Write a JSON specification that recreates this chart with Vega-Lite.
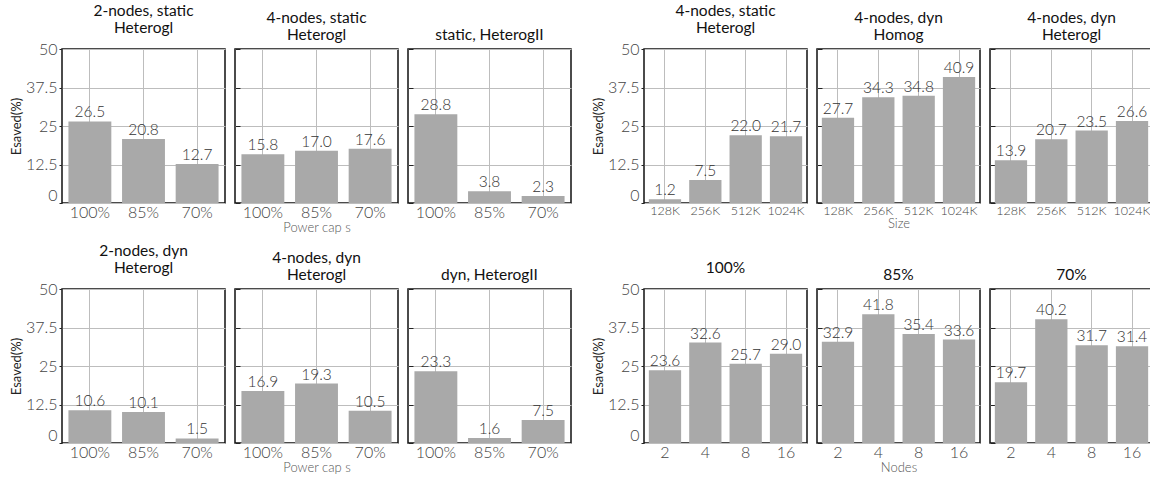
{
  "$schema": "https://vega.github.io/schema/vega-lite/v6.json",
  "padding": {"left": 9, "top": 2, "right": 0, "bottom": 0},
  "background": "white",
  "data": {"values": [
    {"p": "a1", "x": "100%", "v": 26.5}, {"p": "a1", "x": "85%", "v": 20.8}, {"p": "a1", "x": "70%", "v": 12.7},
    {"p": "a2", "x": "100%", "v": 15.8}, {"p": "a2", "x": "85%", "v": 17.0}, {"p": "a2", "x": "70%", "v": 17.6},
    {"p": "a3", "x": "100%", "v": 28.8}, {"p": "a3", "x": "85%", "v": 3.8}, {"p": "a3", "x": "70%", "v": 2.3},
    {"p": "b1", "x": "128K", "v": 1.2}, {"p": "b1", "x": "256K", "v": 7.5}, {"p": "b1", "x": "512K", "v": 22.0}, {"p": "b1", "x": "1024K", "v": 21.7},
    {"p": "b2", "x": "128K", "v": 27.7}, {"p": "b2", "x": "256K", "v": 34.3}, {"p": "b2", "x": "512K", "v": 34.8}, {"p": "b2", "x": "1024K", "v": 40.9},
    {"p": "b3", "x": "128K", "v": 13.9}, {"p": "b3", "x": "256K", "v": 20.7}, {"p": "b3", "x": "512K", "v": 23.5}, {"p": "b3", "x": "1024K", "v": 26.6},
    {"p": "c1", "x": "100%", "v": 10.6}, {"p": "c1", "x": "85%", "v": 10.1}, {"p": "c1", "x": "70%", "v": 1.5},
    {"p": "c2", "x": "100%", "v": 16.9}, {"p": "c2", "x": "85%", "v": 19.3}, {"p": "c2", "x": "70%", "v": 10.5},
    {"p": "c3", "x": "100%", "v": 23.3}, {"p": "c3", "x": "85%", "v": 1.6}, {"p": "c3", "x": "70%", "v": 7.5},
    {"p": "d1", "x": "2", "v": 23.6}, {"p": "d1", "x": "4", "v": 32.6}, {"p": "d1", "x": "8", "v": 25.7}, {"p": "d1", "x": "16", "v": 29.0},
    {"p": "d2", "x": "2", "v": 32.9}, {"p": "d2", "x": "4", "v": 41.8}, {"p": "d2", "x": "8", "v": 35.4}, {"p": "d2", "x": "16", "v": 33.6},
    {"p": "d3", "x": "2", "v": 19.7}, {"p": "d3", "x": "4", "v": 40.2}, {"p": "d3", "x": "8", "v": 31.7}, {"p": "d3", "x": "16", "v": 31.4}
  ]},
  "vconcat": [
    {"spacing": 19, "hconcat": [
      {"hconcat": [
        {"title": {"text": ["2-nodes, static", "Heterogl"]}, "width": 163, "height": 154,
         "transform": [{"filter": "datum.p === 'a1'"}],
         "encoding": {
           "x": {"field": "x", "type": "nominal", "sort": ["100%", "85%", "70%"], "title": null, "scale": {"paddingInner": 0.2, "paddingOuter": 0.12}},
           "y": {"field": "v", "type": "quantitative", "scale": {"domain": [0, 50]}, "axis": {"values": [0, 12.5, 25, 37.5, 50], "labelExpr": "'' + datum.value", "title": "Esaved(%)", "labelOffset": {"condition": {"test": "datum.value === 0", "value": -8}, "value": 0}}}},
         "layer": [{"mark": "bar"}, {"mark": {"type": "text", "baseline": "bottom", "dy": -1}, "encoding": {"text": {"field": "v", "type": "quantitative", "format": ".1f"}}}]},
        {"title": {"text": ["4-nodes, static", "Heterogl"]}, "width": 163, "height": 154,
         "transform": [{"filter": "datum.p === 'a2'"}],
         "encoding": {
           "x": {"field": "x", "type": "nominal", "sort": ["100%", "85%", "70%"], "title": "Power cap s", "scale": {"paddingInner": 0.2, "paddingOuter": 0.12}},
           "y": {"field": "v", "type": "quantitative", "scale": {"domain": [0, 50]}, "axis": {"values": [0, 12.5, 25, 37.5, 50], "title": null, "labels": false, "tickSize": -5}}},
         "layer": [{"mark": "bar"}, {"mark": {"type": "text", "baseline": "bottom", "dy": -1}, "encoding": {"text": {"field": "v", "type": "quantitative", "format": ".1f"}}}]},
        {"title": {"text": ["", "static, HeterogII"]}, "width": 163, "height": 154,
         "transform": [{"filter": "datum.p === 'a3'"}],
         "encoding": {
           "x": {"field": "x", "type": "nominal", "sort": ["100%", "85%", "70%"], "title": null, "scale": {"paddingInner": 0.2, "paddingOuter": 0.12}},
           "y": {"field": "v", "type": "quantitative", "scale": {"domain": [0, 50]}, "axis": {"values": [0, 12.5, 25, 37.5, 50], "title": null, "labels": false, "tickSize": -5}}},
         "layer": [{"mark": "bar"}, {"mark": {"type": "text", "baseline": "bottom", "dy": -1}, "encoding": {"text": {"field": "v", "type": "quantitative", "format": ".1f"}}}]}
      ]},
      {"hconcat": [
        {"title": {"text": ["4-nodes, static", "Heterogl"]}, "width": 163, "height": 154,
         "transform": [{"filter": "datum.p === 'b1'"}],
         "encoding": {
           "x": {"field": "x", "type": "nominal", "sort": ["128K", "256K", "512K", "1024K"], "title": null, "axis": {"labelFontSize": 12.5}, "scale": {"paddingInner": 0.2, "paddingOuter": 0.12}},
           "y": {"field": "v", "type": "quantitative", "scale": {"domain": [0, 50]}, "axis": {"values": [0, 12.5, 25, 37.5, 50], "labelExpr": "'' + datum.value", "title": "Esaved(%)", "labelOffset": {"condition": {"test": "datum.value === 0", "value": -8}, "value": 0}}}},
         "layer": [{"mark": "bar"}, {"mark": {"type": "text", "baseline": "bottom", "dy": -1}, "encoding": {"text": {"field": "v", "type": "quantitative", "format": ".1f"}}}]},
        {"title": {"text": ["4-nodes, dyn", "Homog"]}, "width": 163, "height": 154,
         "transform": [{"filter": "datum.p === 'b2'"}],
         "encoding": {
           "x": {"field": "x", "type": "nominal", "sort": ["128K", "256K", "512K", "1024K"], "title": "Size", "axis": {"labelFontSize": 12.5}, "scale": {"paddingInner": 0.2, "paddingOuter": 0.12}},
           "y": {"field": "v", "type": "quantitative", "scale": {"domain": [0, 50]}, "axis": {"values": [0, 12.5, 25, 37.5, 50], "title": null, "labels": false, "tickSize": -5}}},
         "layer": [{"mark": "bar"}, {"mark": {"type": "text", "baseline": "bottom", "dy": -1}, "encoding": {"text": {"field": "v", "type": "quantitative", "format": ".1f"}}}]},
        {"title": {"text": ["4-nodes, dyn", "Heterogl"]}, "width": 163, "height": 154,
         "transform": [{"filter": "datum.p === 'b3'"}],
         "encoding": {
           "x": {"field": "x", "type": "nominal", "sort": ["128K", "256K", "512K", "1024K"], "title": null, "axis": {"labelFontSize": 12.5}, "scale": {"paddingInner": 0.2, "paddingOuter": 0.12}},
           "y": {"field": "v", "type": "quantitative", "scale": {"domain": [0, 50]}, "axis": {"values": [0, 12.5, 25, 37.5, 50], "title": null, "labels": false, "tickSize": -5}}},
         "layer": [{"mark": "bar"}, {"mark": {"type": "text", "baseline": "bottom", "dy": -1}, "encoding": {"text": {"field": "v", "type": "quantitative", "format": ".1f"}}}]}
      ]}
    ]},
    {"spacing": 19, "hconcat": [
      {"hconcat": [
        {"title": {"text": ["2-nodes, dyn", "Heterogl"]}, "width": 163, "height": 154,
         "transform": [{"filter": "datum.p === 'c1'"}],
         "encoding": {
           "x": {"field": "x", "type": "nominal", "sort": ["100%", "85%", "70%"], "title": null, "scale": {"paddingInner": 0.2, "paddingOuter": 0.12}},
           "y": {"field": "v", "type": "quantitative", "scale": {"domain": [0, 50]}, "axis": {"values": [0, 12.5, 25, 37.5, 50], "labelExpr": "'' + datum.value", "title": "Esaved(%)", "labelOffset": {"condition": {"test": "datum.value === 0", "value": -8}, "value": 0}}}},
         "layer": [{"mark": "bar"}, {"mark": {"type": "text", "baseline": "bottom", "dy": -1}, "encoding": {"text": {"field": "v", "type": "quantitative", "format": ".1f"}}}]},
        {"title": {"text": ["4-nodes, dyn", "Heterogl"]}, "width": 163, "height": 154,
         "transform": [{"filter": "datum.p === 'c2'"}],
         "encoding": {
           "x": {"field": "x", "type": "nominal", "sort": ["100%", "85%", "70%"], "title": "Power cap s", "scale": {"paddingInner": 0.2, "paddingOuter": 0.12}},
           "y": {"field": "v", "type": "quantitative", "scale": {"domain": [0, 50]}, "axis": {"values": [0, 12.5, 25, 37.5, 50], "title": null, "labels": false, "tickSize": -5}}},
         "layer": [{"mark": "bar"}, {"mark": {"type": "text", "baseline": "bottom", "dy": -1}, "encoding": {"text": {"field": "v", "type": "quantitative", "format": ".1f"}}}]},
        {"title": {"text": ["", "dyn, HeterogII"]}, "width": 163, "height": 154,
         "transform": [{"filter": "datum.p === 'c3'"}],
         "encoding": {
           "x": {"field": "x", "type": "nominal", "sort": ["100%", "85%", "70%"], "title": null, "scale": {"paddingInner": 0.2, "paddingOuter": 0.12}},
           "y": {"field": "v", "type": "quantitative", "scale": {"domain": [0, 50]}, "axis": {"values": [0, 12.5, 25, 37.5, 50], "title": null, "labels": false, "tickSize": -5}}},
         "layer": [{"mark": "bar"}, {"mark": {"type": "text", "baseline": "bottom", "dy": -1}, "encoding": {"text": {"field": "v", "type": "quantitative", "format": ".1f"}}}]}
      ]},
      {"hconcat": [
        {"title": {"text": ["", "100%"]}, "width": 163, "height": 154,
         "transform": [{"filter": "datum.p === 'd1'"}],
         "encoding": {
           "x": {"field": "x", "type": "nominal", "sort": ["2", "4", "8", "16"], "title": null, "scale": {"paddingInner": 0.2, "paddingOuter": 0.12}},
           "y": {"field": "v", "type": "quantitative", "scale": {"domain": [0, 50]}, "axis": {"values": [0, 12.5, 25, 37.5, 50], "labelExpr": "'' + datum.value", "title": "Esaved(%)", "labelOffset": {"condition": {"test": "datum.value === 0", "value": -8}, "value": 0}}}},
         "layer": [{"mark": "bar"}, {"mark": {"type": "text", "baseline": "bottom", "dy": -1}, "encoding": {"text": {"field": "v", "type": "quantitative", "format": ".1f"}}}]},
        {"title": {"text": ["", "85%"]}, "width": 163, "height": 154,
         "transform": [{"filter": "datum.p === 'd2'"}],
         "encoding": {
           "x": {"field": "x", "type": "nominal", "sort": ["2", "4", "8", "16"], "title": "Nodes", "scale": {"paddingInner": 0.2, "paddingOuter": 0.12}},
           "y": {"field": "v", "type": "quantitative", "scale": {"domain": [0, 50]}, "axis": {"values": [0, 12.5, 25, 37.5, 50], "title": null, "labels": false, "tickSize": -5}}},
         "layer": [{"mark": "bar"}, {"mark": {"type": "text", "baseline": "bottom", "dy": -1}, "encoding": {"text": {"field": "v", "type": "quantitative", "format": ".1f"}}}]},
        {"title": {"text": ["", "70%"]}, "width": 163, "height": 154,
         "transform": [{"filter": "datum.p === 'd3'"}],
         "encoding": {
           "x": {"field": "x", "type": "nominal", "sort": ["2", "4", "8", "16"], "title": null, "scale": {"paddingInner": 0.2, "paddingOuter": 0.12}},
           "y": {"field": "v", "type": "quantitative", "scale": {"domain": [0, 50]}, "axis": {"values": [0, 12.5, 25, 37.5, 50], "title": null, "labels": false, "tickSize": -5}}},
         "layer": [{"mark": "bar"}, {"mark": {"type": "text", "baseline": "bottom", "dy": -1}, "encoding": {"text": {"field": "v", "type": "quantitative", "format": ".1f"}}}]}
      ]}
    ]}
  ],
  "config": {
    "font": "Lato",
    "view": {"stroke": "#111", "strokeWidth": 1.5},
    "concat": {"spacing": 7},
    "vconcat": {"spacing": -2},
    "hconcat": {"spacing": 7},
    "bar": {"color": "#a9a9a9"},
    "text": {"font": "Lato", "fontSize": 15.5, "fontWeight": 300, "color": "#333"},
    "title": {"font": "Lato", "fontSize": 15.5, "fontWeight": 400, "color": "#111", "offset": 5, "lineHeight": 17},
    "style": {"group-title": {"fontWeight": 400}},
    "axis": {"labelFont": "Lato", "labelFontSize": 16, "labelFontWeight": 300, "labelColor": "#444", "gridColor": "#bdbdbd", "gridWidth": 1, "domain": false, "tickColor": "#222", "tickSize": 3, "titleFont": "Lato", "titleFontWeight": "normal", "titleColor": "#222"},
    "axisX": {"ticks": false, "labelAngle": 0, "labelPadding": 1, "bandPosition": 0.5, "grid": true, "titleFontSize": 13, "titleColor": "#555", "titleFontWeight": 300, "titlePadding": 1},
    "axisY": {"titleFontSize": 13, "labelPadding": 2, "titlePadding": 2}
  }
}
